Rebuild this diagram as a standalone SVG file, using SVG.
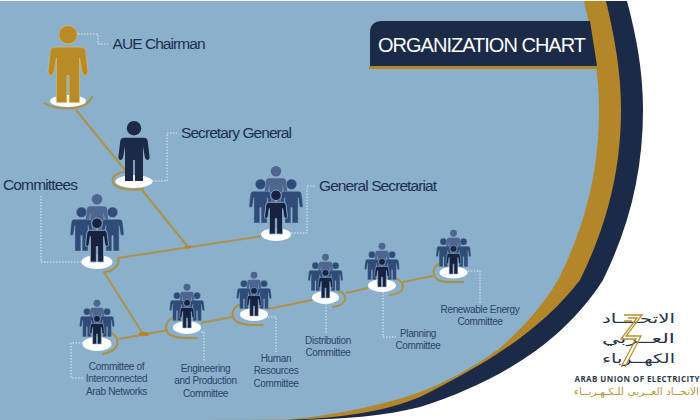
<svg xmlns="http://www.w3.org/2000/svg" width="700" height="420" viewBox="0 0 700 420">
<style>
.l{font-family:"Liberation Sans",Arial,sans-serif;fill:#1c2f50}
.b{font-size:15.500px}
.s{font-size:10px;letter-spacing:-.35px;fill:#2b4469;text-anchor:middle}
.d{fill:none;stroke:#e4eef5;stroke-width:1;stroke-dasharray:1.5 1.5}
.c{fill:none;stroke:#ae9248;stroke-width:2}
.a{fill:none;stroke:#ae9045;stroke-width:2;stroke-linecap:round}
.w{fill:#fff}
.ar{font-family:"DejaVu Sans",sans-serif;direction:rtl}
.z{fill:none;stroke:#b4912f;stroke-width:1.300}
</style>
<defs>
<g id="p"><circle cy="12" r="12"/><path d="M-17 28H17Q22 28 23 34L26 60Q26 65 22 65Q19 65 18 60L15 42V100H1.5V65H-1.5V100H-15V42L-18 60Q-19 65-22 65Q-26 65-26 60L-23 34Q-22 28-17 28Z"/></g>
<g id="grp">
<use href="#p" transform="translate(0,-68) scale(.44)" fill="#4e6590"/>
<use href="#p" transform="translate(-15.5,-55) scale(.44)" fill="#2f4b78" stroke="#8ab0cb" stroke-width="1"/>
<use href="#p" transform="translate(15.5,-55) scale(.44)" fill="#2f4b78" stroke="#8ab0cb" stroke-width="1"/>
<use href="#p" transform="translate(0,-44) scale(.44)" fill="#16223f" stroke="#8ab0cb" stroke-width="2"/>
</g>
</defs>
<rect width="700" height="420" fill="#fff"/>
<g id="background">
<path d="M0 1H627C636 35 643 70 643 110C643 170 630 225 603 280C565 340 500 382 420 407C385 416 345 419 303 420H0Z" fill="#1b2a47"/>
<path d="M0 1H606C614 35 621 70 621 110C621 170 607 225 580 280C545 325 500 357 420 397C385 411 345 418 288 420H0Z" fill="#b4862a"/>
<path d="M0 1H584C592 35 599 70 599 110C599 170 586 225 558 280C540 310 520 330 500 348C470 370 440 385 420 392C390 403 340 415 288 419.500L200 420H0Z" fill="#8ab0cb"/>
</g>
<g id="title">
<path d="M370 66V33Q370 21 382 21H590L597 66Z" fill="#1b2a47"/>
<path d="M369 66H597L598 69H369Z" fill="#b4862a"/>
<text class="l" x="378" y="52" font-size="20" style="fill:#fff" textLength="208">ORGANIZATION CHART</text>
</g>
<g id="connectors">
<path class="c" d="M76 110L125 170M142 190L188 247M118 258L262 236M104 272L143 334M119 339L168 330M201 323L232 317M268 309L312 300M346 293L368 288M403 282L433 276"/>
<ellipse cx="188" cy="247" rx="3.500" ry="1.500" fill="#b4862a"/>
<ellipse cx="144" cy="334" rx="5" ry="2.200" fill="#b4862a"/>
<path class="a" d="M44 103C55 110 85 112 92 97"/>
<path class="a" d="M127 172C112 172 108 183 118 187C125 190 135 190 143 189"/>
<path class="a" d="M118 258C120 265 114 271 104 272"/>
<path class="a" d="M111 333C120 337 122 350 103 354"/>
<path class="a" d="M172 318C165 322 164 331 170 335C178 339 188 338 197 338"/>
<path class="a" d="M239 305C232 308 230 317 237 322C245 326 255 325 263 325"/>
<path class="a" d="M339 291C347 294 350 304 333 307"/>
<path class="a" d="M397 279C405 282 407 293 390 295"/>
<path class="a" d="M440 263C433 266 431 275 438 280C445 283 455 282 463 282"/>
<path class="d" d="M78 34H98V44H108M152 181H167V133H177M41 196V262H82M291 233H307V186H316M83 343H71V378H84M201 332H204V362M268 317H276V352M326 304V334M383 292V337H396M468 271H480V303"/>
</g>
<g id="chairman">
<ellipse class="w" cx="68" cy="101" rx="18" ry="6"/>
<use href="#p" transform="translate(68,25.500) scale(.77)" fill="#b98b27" stroke="#d9c27e" stroke-width=".8"/>
<text class="l b" x="112.500" y="49" textLength="93">AUE Chairman</text>
</g>
<g id="secretary">
<ellipse class="w" cx="134" cy="181.500" rx="18.500" ry="6.500"/>
<use href="#p" transform="translate(134,121) scale(.6)" fill="#1b2a47"/>
<text class="l b" x="181" y="138" textLength="111">Secretary General</text>
</g>
<g id="committees">
<ellipse class="w" cx="97" cy="262" rx="15.500" ry="7"/>
<use href="#grp" transform="translate(97,262)"/>
<text class="l b" x="3" y="190" textLength="75">Committees</text>
</g>
<g id="secretariat">
<ellipse class="w" cx="276" cy="234.500" rx="15" ry="6.500"/>
<use href="#grp" transform="translate(276,234)"/>
<text class="l b" x="319" y="191" textLength="118">General Secretariat</text>
</g>
<g id="interconnected">
<ellipse class="w" cx="97" cy="344" rx="14.500" ry="7"/>
<use href="#grp" transform="translate(97,344) scale(.65)"/>
<text class="l s"><tspan x="116.500" y="370">Committee of</tspan><tspan x="116.500" y="382">Interconnected</tspan><tspan x="116.500" y="394.500">Arab Networks</tspan></text>
</g>
<g id="engineering">
<ellipse class="w" cx="187" cy="327.500" rx="14" ry="6.500"/>
<use href="#grp" transform="translate(187,328) scale(.65)"/>
<text class="l s"><tspan x="205.500" y="372">Engineering</tspan><tspan x="205.500" y="384">and Production</tspan><tspan x="205.500" y="396.500">Committee</tspan></text>
</g>
<g id="hr">
<ellipse class="w" cx="254" cy="314.500" rx="14" ry="6.500"/>
<use href="#grp" transform="translate(254,316) scale(.65)"/>
<text class="l s"><tspan x="276" y="362">Human</tspan><tspan x="276" y="374">Resources</tspan><tspan x="276" y="386.500">Committee</tspan></text>
</g>
<g id="distribution">
<ellipse class="w" cx="325.500" cy="297.500" rx="13.500" ry="6.500"/>
<use href="#grp" transform="translate(325.500,298) scale(.65)"/>
<text class="l s"><tspan x="328" y="344">Distribution</tspan><tspan x="328" y="356">Committee</tspan></text>
</g>
<g id="planning">
<ellipse class="w" cx="382" cy="285.500" rx="14" ry="6.500"/>
<use href="#grp" transform="translate(382,287) scale(.65)"/>
<text class="l s"><tspan x="418" y="336.500">Planning</tspan><tspan x="418" y="348.500">Committee</tspan></text>
</g>
<g id="renewable">
<ellipse class="w" cx="453.500" cy="272.500" rx="14" ry="6"/>
<use href="#grp" transform="translate(453.500,274) scale(.65)"/>
<text class="l s"><tspan x="480" y="312.500">Renewable Energy</tspan><tspan x="480" y="325">Committee</tspan></text>
</g>
<g id="logo">
<text class="ar" x="675" y="323" font-size="13" fill="#27324a" textLength="73" lengthAdjust="spacingAndGlyphs">الاتحــــاد</text>
<text class="ar" x="675" y="343" font-size="13" fill="#27324a" textLength="73" lengthAdjust="spacingAndGlyphs">العــربي</text>
<text class="ar" x="675" y="363" font-size="13" fill="#27324a" textLength="73" lengthAdjust="spacingAndGlyphs">الكهــرباء</text>
<path class="z" d="M624 315H642L626 336H641L625 367M628 318H637L621 339H636L621 367M624 321H632"/>
<text x="574.500" y="382" font-family="Open Sans,Liberation Sans,sans-serif" font-weight="700" font-size="8" fill="#2e3a4c" textLength="125">ARAB UNION OF ELECTRICITY</text>
<text class="ar" x="699" y="395" font-size="10" fill="#b8963a" textLength="125" lengthAdjust="spacingAndGlyphs">الاتحــاد العــربي للـكـهـربــاء</text>
</g>
</svg>
